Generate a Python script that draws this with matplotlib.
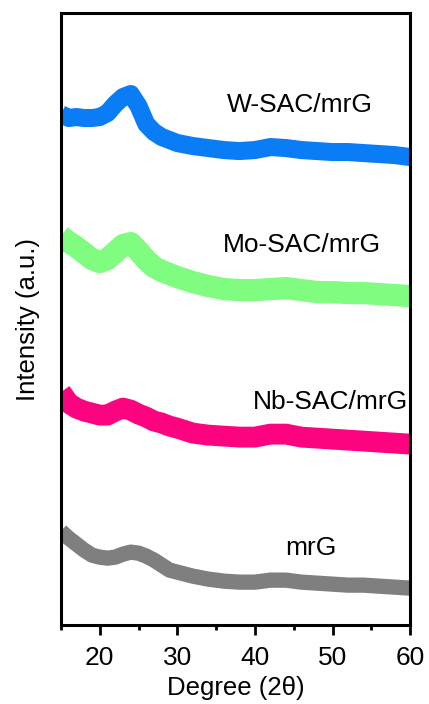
import numpy as np
from matplotlib import pyplot as plt

plt.rcParams['font.family'] = ['Liberation Sans', 'DejaVu Sans']

two_theta = [15, 16, 17, 18, 19, 20, 21, 22, 23, 24, 25, 26, 27, 28, 29, 30,
             32, 34, 36, 38, 40, 42, 44, 46, 48, 50, 52, 54, 56, 58, 60]

# intensities (a.u., already stacked with offsets)
w_sac = [511, 507, 508, 507, 507, 508, 512, 521, 528, 531, 519, 501, 493, 488, 485, 482,
         479, 477, 475, 474, 475, 478, 477, 475, 474, 473, 473, 472, 471, 470, 468]
mo_sac = [389, 383, 378, 372, 366, 363, 366, 373, 380, 382, 374, 365, 358, 354, 351, 348,
          343, 339, 336, 335, 335, 336, 337, 335, 333, 333, 332, 332, 331, 330, 329]
nb_sac = [233, 222, 217, 214, 212, 210, 210, 214, 217, 215, 211, 208, 204, 202, 199, 197,
          192, 190, 189, 188, 188, 191, 191, 188, 187, 186, 185, 184, 183, 182, 181]
mrg = [94, 87, 81, 75, 70, 68, 67, 68, 71, 73, 72, 69, 65, 60, 55, 53,
       49, 46, 44, 43, 43, 45, 45, 43, 42, 41, 40, 40, 39, 38, 37]

names = ['W-SAC/mrG', 'Mo-SAC/mrG', 'Nb-SAC/mrG', 'mrG']
series = [w_sac, mo_sac, nb_sac, mrg]
colors = ['#0a7cf5', '#80fc80', '#fc0480', '#7f7f7f']
widths = [13, 16, 15, 11]
# label anchor (degree, intensity)
label_x = [45.8, 46.1, 49.7, 47.2]
label_y = [520, 380, 223, 77]

fig = plt.figure(figsize=(4.29, 7.04), dpi=100)
ax = fig.add_axes([0.142, 0.112, 0.814, 0.8695])

for ys, c, lw in zip(series, colors, widths):
    ax.plot(two_theta, ys, color=c, lw=lw, solid_capstyle='butt', solid_joinstyle='round')

for name, lx, ly in zip(names, label_x, label_y):
    ax.text(lx, ly, name, fontsize=19, ha='center', va='center')

ax.set_xlim(15, 60)
ax.set_ylim(0, 612)
ax.set_xticks([20, 30, 40, 50, 60])
ax.set_xticks([15, 25, 35, 45, 55], minor=True)
ax.set_yticks([])
ax.tick_params(axis='x', which='major', direction='out', length=7, width=2, labelsize=19, pad=8)
ax.tick_params(axis='x', which='minor', direction='out', length=3.5, width=2)
for sp in ax.spines.values():
    sp.set_linewidth(2.2)

ax.set_xlabel('Degree (2θ)', fontsize=18.5, labelpad=4)
ax.set_ylabel('Intensity (a.u.)', fontsize=18.5, labelpad=15)

fig.savefig('out.png', dpi=100)
